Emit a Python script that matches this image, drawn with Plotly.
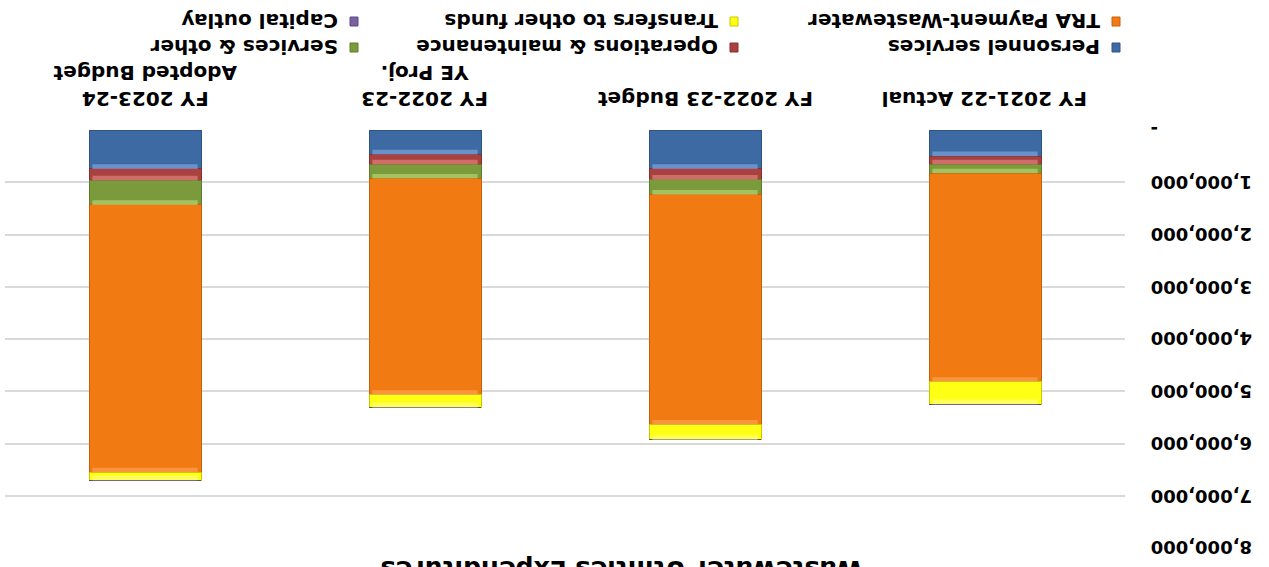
import plotly.graph_objects as go

# Wastewater Utilities Expenditures by fiscal year (stacked, in dollars)
categories = ["FY 2021-22 Actual", "FY 2022-23 Budget", "FY 2022-23<br>YE Proj.", "FY 2023-24<br>Adopted Budget"]
personnel_services = [500000, 745000, 470000, 745000]
operations_maintenance = [160000, 205000, 190000, 220000]
services_other = [170000, 290000, 270000, 470000]
tra_payment_wastewater = [3990000, 4400000, 4140000, 5120000]
transfers_other_funds = [430000, 290000, 240000, 150000]
capital_outlay = [0, 0, 0, 0]

series_names = ["Personnel services", "Operations & maintenance", "Services & other",
                "TRA Payment-Wastewater", "Transfers to other funds", "Capital outlay"]
series_values = [personnel_services, operations_maintenance, services_other,
                 tra_payment_wastewater, transfers_other_funds, capital_outlay]
series_colors = ["#3E6AA3", "#A8413F", "#7A9A3C", "#F27A12", "#FFFF14", "#7A62A0"]
series_edges = ["#2F5485", "#8A2F2E", "#5F7C2A", "#C8600A", "#C8C800", "#5E4A82"]
series_bevel = ["#86AEE6", "#EA8A84", "#BEE07A", "#FBA75C", "#FFFF8C", "#B8A4DA"]

y_tick_values = [0, 1000000, 2000000, 3000000, 4000000, 5000000, 6000000, 7000000, 8000000]
y_tick_labels = ["-", "1,000,000", "2,000,000", "3,000,000", "4,000,000",
                 "5,000,000", "6,000,000", "7,000,000", "8,000,000"]

title_text = "Wastewater Utilities Expenditures"

W, H = 1269, 567
M_L, M_R, M_T, M_B = 5, 144, 130, 19
PW, PH = W - M_L - M_R, H - M_T - M_B

FONT = "DejaVu Sans, Liberation Sans, sans-serif"
BAR_WIDTH = 0.4          # in category units (bargap 0.6)
BEVEL = 90000            # bevel band thickness, axis units


def px_x(px):
    return (px - M_L) / PW


def px_y(py):
    return (H - M_B - py) / PH


fig = go.Figure()
for name, vals, col, edge in zip(series_names, series_values, series_colors, series_edges):
    fig.add_trace(go.Bar(
        x=categories, y=vals, name=name,
        marker=dict(color=col, line=dict(color=edge, width=1)),
        showlegend=False,
    ))

annotations = []
shapes = []

# Bevel highlight at the outer end of every stacked segment
for ci in range(len(categories)):
    base = 0
    for vals, bev in zip(series_values, series_bevel):
        v = vals[ci]
        if v > 0:
            top = base + v
            shapes.append(dict(
                type="rect", xref="x", yref="y", layer="above",
                x0=ci - BAR_WIDTH / 2 + 0.012, x1=ci + BAR_WIDTH / 2 - 0.012,
                y0=top - min(BEVEL, v * 0.6), y1=top,
                fillcolor=bev, opacity=0.6, line=dict(width=0),
            ))
        base += v

# Category labels, upside down, centred over each bar
for cat in categories:
    annotations.append(dict(
        x=cat, xref="x", y=px_y(113), yref="paper",
        text=cat, textangle=180, showarrow=False, align="center",
        xanchor="center", yanchor="bottom",
        font=dict(family=FONT, size=20, color="#000000", weight="bold"),
    ))

# Value-axis labels on the right, upside down
for v, lab in zip(y_tick_values, y_tick_labels):
    annotations.append(dict(
        x=px_x(1149), xref="paper", y=v, yref="y",
        text=lab, textangle=180, showarrow=False,
        xanchor="left", yanchor="middle",
        font=dict(family=FONT, size=18, color="#000000", weight="bold"),
    ))

# Upside-down legend: 3 columns x 2 rows, text + square swatches
legend_cols = [1102, 720, 340]   # right edge of text for each column
legend_rows = [47, 21]           # vertical centre of each row
for i, (name, col, edge) in enumerate(zip(series_names, series_colors, series_edges)):
    r, c = divmod(i, 3)
    tx, ty = legend_cols[c], legend_rows[r]
    annotations.append(dict(
        x=px_x(tx), y=px_y(ty), xref="paper", yref="paper",
        text=name, textangle=180, showarrow=False,
        xanchor="right", yanchor="middle",
        font=dict(family=FONT, size=20, color="#000000", weight="bold"),
    ))
    sx = tx + 10
    shapes.append(dict(
        type="rect", xref="paper", yref="paper",
        x0=px_x(sx), x1=px_x(sx + 8), y0=px_y(ty - 4), y1=px_y(ty + 5),
        fillcolor=col, line=dict(color=edge, width=1),
    ))

annotations.append(dict(
    x=px_x(622), y=px_y(553), xref="paper", yref="paper",
    text=title_text, textangle=180, showarrow=False,
    xanchor="center", yanchor="top",
    font=dict(family=FONT, size=25, color="#000000", weight="bold"),
))

fig.update_layout(
    width=W, height=H,
    margin=dict(l=M_L, r=M_R, t=M_T, b=M_B, autoexpand=False),
    barmode="stack", bargap=0.6,
    plot_bgcolor="#FFFFFF", paper_bgcolor="#FFFFFF",
    annotations=annotations, shapes=shapes,
    xaxis=dict(
        type="category", categoryarray=categories, autorange="reversed",
        showticklabels=False, showgrid=False, showline=False, ticks="",
        zeroline=False,
    ),
    yaxis=dict(
        range=[8000000, 0], side="right",
        tickvals=y_tick_values, showticklabels=False,
        showgrid=True, gridcolor="#D9D9D9", gridwidth=1.5,
        zeroline=False, showline=False, ticks="",
    ),
)

fig.write_html("out.html")
